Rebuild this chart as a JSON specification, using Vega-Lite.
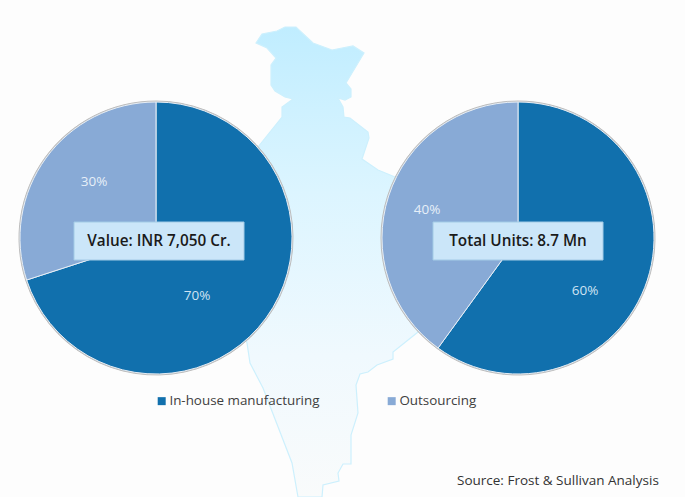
{
"$schema":"https://vega.github.io/schema/vega-lite/v6.json",
"width":685,"height":497,"padding":0,
"autosize":{"type":"fit","contains":"padding"},
"background":"#fdfdfd",
"datasets":{
"pies":[
{"metric":"Value","segment":"In-house manufacturing","share":70,"label":"70%"},
{"metric":"Value","segment":"Outsourcing","share":30,"label":"30%"},
{"metric":"Total Units","segment":"In-house manufacturing","share":60,"label":"60%"},
{"metric":"Total Units","segment":"Outsourcing","share":40,"label":"40%"}
],
"boxes":[
{"metric":"Value","caption":"Value: INR 7,050 Cr."},
{"metric":"Total Units","caption":"Total Units: 8.7 Mn"}
]
},
"layer":[
{
"data":{"values":[{"type":"Feature","properties":{"name":"India"},"geometry":{"type":"Polygon","coordinates":[[[256,43],[262,34],[277,31],[285,27],[296,27],[313,43],[332,50],[353,46],[364,53],[346,83],[351,89],[351,97],[345,100],[338,98],[343,107],[344,117],[350,118],[368,132],[369,138],[362,159],[378,170],[395,177],[430,200],[440,300],[418,332],[393,352],[393,359],[377,365],[368,372],[360,374],[356,385],[358,413],[351,435],[351,464],[343,464],[338,473],[339,481],[323,485],[322,497],[298,497],[292,463],[263,388],[250,363],[247,343],[235,300],[225,200],[258,147],[282,117],[282,107],[293,99],[285,97],[275,91],[271,85],[271,65],[276,58],[267,48],[256,43]]]}}]},
"projection":{"type":"identity","scale":1,"translate":[0,0]},
"mark":{"type":"geoshape","stroke":"#cdf0fd","strokeWidth":1.2,"fill":{"x1":0,"y1":0,"x2":0,"y2":1,"gradient":"linear","stops":[{"offset":0,"color":"#c0edff"},{"offset":0.35,"color":"#dcf5ff"},{"offset":0.7,"color":"#f0f9fe"},{"offset":1,"color":"#f9fbfb"}]}}
},
{
"data":{"name":"pies"},
"transform":[{"stack":"share","groupby":["metric"],"sort":[{"field":"segment","order":"ascending"}],"as":["start","end"]}],
"mark":{"type":"arc","outerRadius":137,"y":238,"stroke":"#bdbdbd","strokeWidth":1,"fill":"#bdbdbd"},
"encoding":{
"x":{"field":"metric","type":"nominal","axis":null,"scale":{"type":"point","domain":["Value","Total Units"],"range":[156,518],"padding":0}},
"theta":{"field":"start","type":"quantitative","scale":{"domain":[0,100]}},
"theta2":{"field":"end"}
}
},
{
"data":{"name":"pies"},
"transform":[{"stack":"share","groupby":["metric"],"sort":[{"field":"segment","order":"ascending"}],"as":["start","end"]}],
"mark":{"type":"arc","outerRadius":136,"y":238,"stroke":"#e6eef6","strokeWidth":1},
"encoding":{
"x":{"field":"metric","type":"nominal","axis":null,"scale":{"type":"point","domain":["Value","Total Units"],"range":[156,518],"padding":0}},
"theta":{"field":"start","type":"quantitative","scale":{"domain":[0,100]}},
"theta2":{"field":"end"},
"color":{"field":"segment","type":"nominal","scale":{"domain":["In-house manufacturing","Outsourcing"],"range":["#1170ad","#88aad6"]},
"legend":{"title":null,"orient":"none","legendX":155,"legendY":394,"direction":"horizontal","symbolType":"square","symbolSize":64,"symbolStrokeWidth":0,"labelFont":"Open Sans","labelFontSize":13.4,"labelColor":"#404040","columnPadding":65,"labelOffset":1,"labelLimit":200}}
}
},
{"data":{"name":"pies"},"transform":[{"filter":"datum.label=='70%'"}],"mark":{"type":"text","y":296,"dx":41,"font":"Open Sans","fontSize":13.5,"color":"#cfe3f3"},"encoding":{"x":{"field":"metric","type":"nominal","axis":null,"scale":{"type":"point","domain":["Value","Total Units"],"range":[156,518],"padding":0}},"text":{"field":"label"}}},
{"data":{"name":"pies"},"transform":[{"filter":"datum.label=='30%'"}],"mark":{"type":"text","y":182,"dx":-62,"font":"Open Sans","fontSize":13.5,"color":"#e6eff8"},"encoding":{"x":{"field":"metric","type":"nominal","axis":null,"scale":{"type":"point","domain":["Value","Total Units"],"range":[156,518],"padding":0}},"text":{"field":"label"}}},
{"data":{"name":"pies"},"transform":[{"filter":"datum.label=='60%'"}],"mark":{"type":"text","y":291,"dx":67,"font":"Open Sans","fontSize":13.5,"color":"#cfe3f3"},"encoding":{"x":{"field":"metric","type":"nominal","axis":null,"scale":{"type":"point","domain":["Value","Total Units"],"range":[156,518],"padding":0}},"text":{"field":"label"}}},
{"data":{"name":"pies"},"transform":[{"filter":"datum.label=='40%'"}],"mark":{"type":"text","y":210,"dx":-91,"font":"Open Sans","fontSize":13.5,"color":"#e6eff8"},"encoding":{"x":{"field":"metric","type":"nominal","axis":null,"scale":{"type":"point","domain":["Value","Total Units"],"range":[156,518],"padding":0}},"text":{"field":"label"}}},
{
"data":{"name":"boxes"},
"transform":[{"filter":"datum.metric=='Value'"}],
"layer":[
{"mark":{"type":"rect","width":170,"height":38,"y":222,"y2":260,"xOffset":3,"fill":"#cbe6f9","stroke":"#a3cbe6","strokeWidth":1},"encoding":{"x":{"field":"metric","type":"nominal","axis":null,"scale":{"type":"point","domain":["Value","Total Units"],"range":[156,518],"padding":0}}}},
{"mark":{"type":"text","y":241,"dx":3,"font":"Open Sans","fontWeight":600,"fontSize":15.3,"color":"#1a1a1a"},"encoding":{"x":{"field":"metric","type":"nominal","axis":null,"scale":{"type":"point","domain":["Value","Total Units"],"range":[156,518],"padding":0}},"text":{"field":"caption"}}}
]
},
{
"data":{"name":"boxes"},
"transform":[{"filter":"datum.metric=='Total Units'"}],
"layer":[
{"mark":{"type":"rect","width":170,"height":38,"y":222,"y2":260,"fill":"#cbe6f9","stroke":"#a3cbe6","strokeWidth":1},"encoding":{"x":{"field":"metric","type":"nominal","axis":null,"scale":{"type":"point","domain":["Value","Total Units"],"range":[156,518],"padding":0}}}},
{"mark":{"type":"text","y":241,"font":"Open Sans","fontWeight":600,"fontSize":15.3,"color":"#1a1a1a"},"encoding":{"x":{"field":"metric","type":"nominal","axis":null,"scale":{"type":"point","domain":["Value","Total Units"],"range":[156,518],"padding":0}},"text":{"field":"caption"}}}
]
},
{
"data":{"values":[{"source":"Source: Frost & Sullivan Analysis"}]},
"mark":{"type":"text","x":457,"y":481,"align":"left","font":"Open Sans","fontSize":13.5,"color":"#333333"},
"encoding":{"text":{"field":"source"}}
}
],
"config":{"view":{"stroke":null}}
}
